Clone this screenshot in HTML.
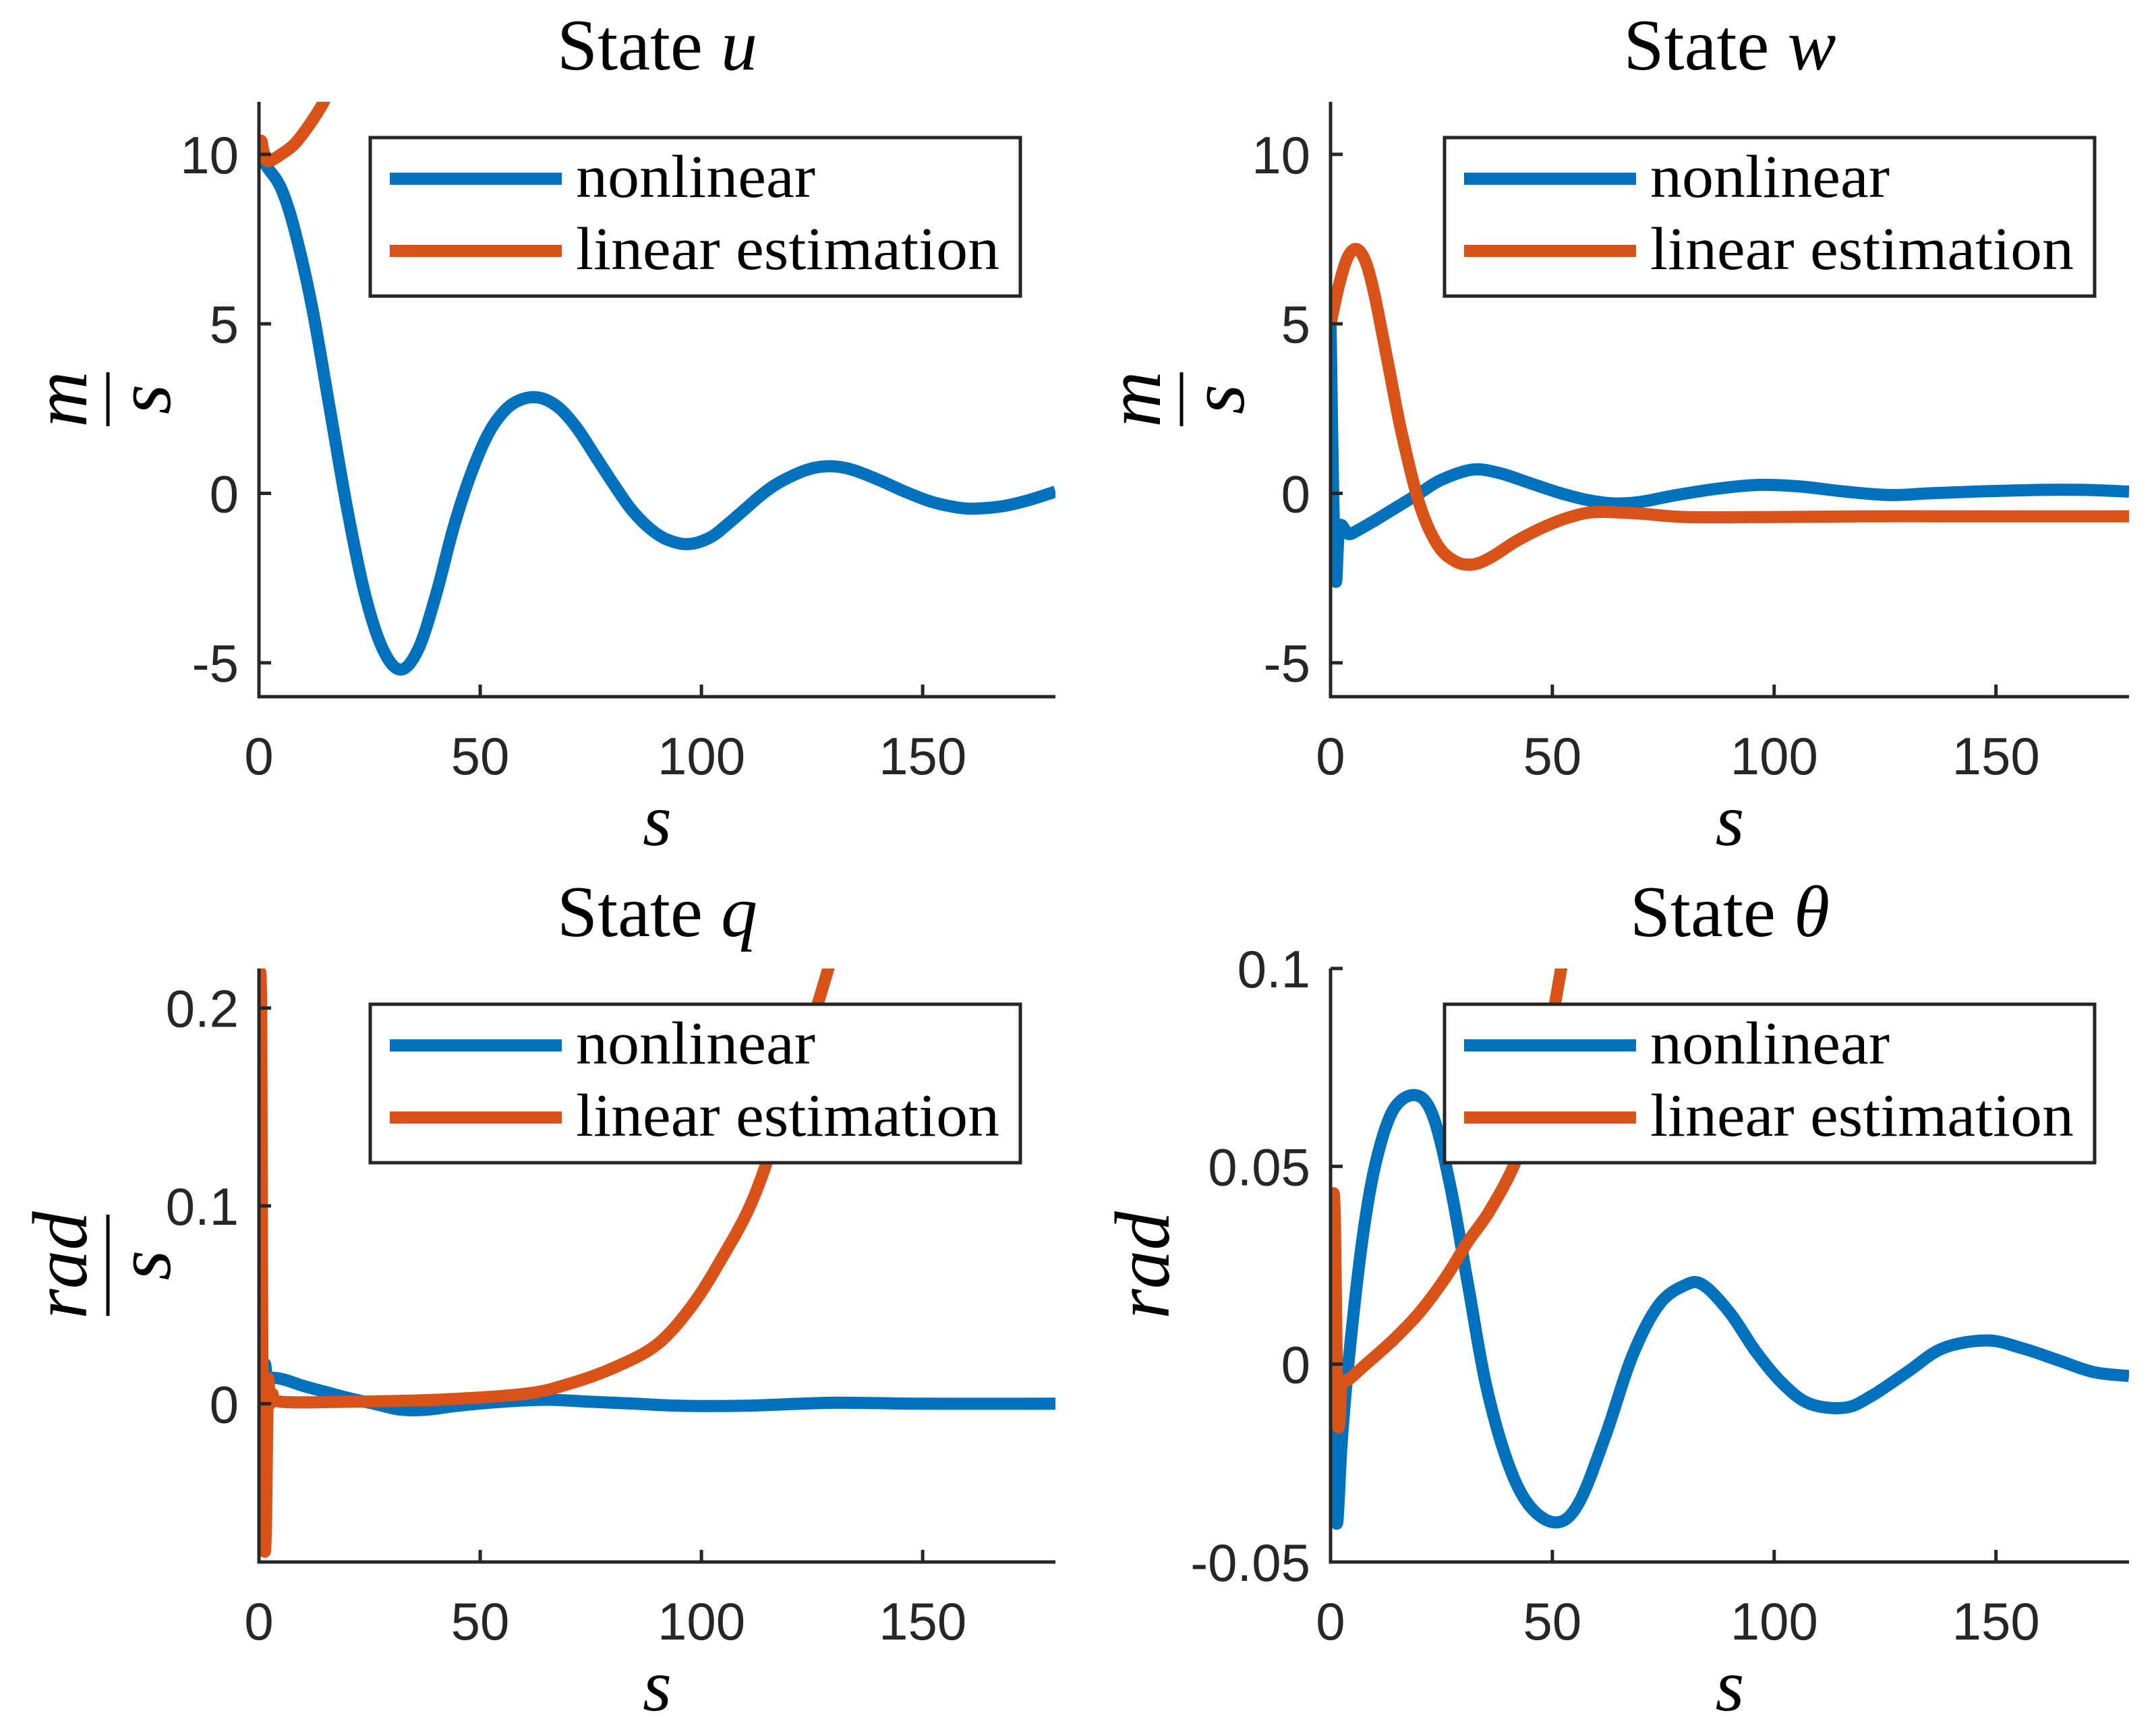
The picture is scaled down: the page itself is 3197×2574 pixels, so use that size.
<!DOCTYPE html>
<html><head><meta charset="utf-8"><style>
html,body{margin:0;padding:0;background:#fff;}
svg{display:block;}
</style></head><body>
<svg id="fig" xmlns="http://www.w3.org/2000/svg" width="3197" height="2574" viewBox="0 0 3197 2574">
<rect width="3197" height="2574" fill="#fff"/>
</svg>
<script>
// ---- data ----
const uNonT=[0,2,5,8,12,16,20,24,28,32,36,40,44,48,52,56,60,64,68,72,76,80,84,88,92,97,102,106,110,114,118,124,129,134,140,146,152,158,162,168,174,180];
const uNonV=[10,9.6,9,7.8,5.5,2.5,-0.5,-3,-4.6,-5.2,-4.6,-3,-1,0.6,1.8,2.5,2.8,2.8,2.5,1.9,1.1,0.3,-0.45,-1.0,-1.35,-1.5,-1.3,-0.9,-0.45,0,0.35,0.7,0.8,0.7,0.4,0.05,-0.25,-0.42,-0.45,-0.38,-0.2,0.05];
const uLinT=[0,0.5,1,2,5,8,11,14,16,17];
const uLinV=[10,10.4,10.1,9.8,10,10.3,10.8,11.4,11.9,12.1];
const wNonT=[0,0.6,1.2,2,4,6,10,15,20,25,32,38,45,52,58,64,70,78,88,97,106,116,126,135,145,160,170,180];
const wNonV=[5,0,-2.6,-1,-1.2,-1.1,-0.8,-0.4,0,0.4,0.7,0.6,0.3,0,-0.2,-0.3,-0.25,-0.05,0.15,0.25,0.2,0.05,-0.05,0,0.05,0.1,0.1,0.05];
const wLinT=[0,2,4,6,8,10,13,16,20,24,28,32,36,42,48,54,60,70,80,100,120,140,180];
const wLinV=[5,6.2,7,7.2,6.8,5.8,3.8,1.8,-0.3,-1.5,-2,-2.1,-1.9,-1.4,-1,-0.7,-0.55,-0.6,-0.7,-0.7,-0.68,-0.68,-0.68];
const qNonT=[0,0.3,0.8,1.3,2,3,6,10,15,20,26,32,38,45,55,65,75,85,95,110,130,150,180];
const qNonV=[0,-0.04,0,0.02,0.01,0.013,0.012,0.009,0.006,0.003,0,-0.003,-0.003,-0.001,0.001,0.002,0.001,0,-0.001,-0.001,0.0005,0,0];
const qLinT=[0,0.5,0.8,1.2,1.6,2,2.5,3,5,20,40,60,70,80,90,98,105,111,116,121,126,130];
const qLinV=[0.21,0.2,0,-0.07,-0.06,0.01,0,0.005,0.001,0.001,0.002,0.005,0.01,0.018,0.03,0.05,0.075,0.1,0.13,0.165,0.2,0.23];
const thNonT=[0,0.8,1.5,2.5,4,7,10,14,19,23,27,31,35,40,45,51,56,62,68,74,80,84,90,96,102,108,116,122,130,138,148,156,164,172,180];
const thNonV=[0,-0.03,-0.04,-0.02,0,0.03,0.05,0.064,0.068,0.063,0.045,0.02,-0.005,-0.025,-0.036,-0.04,-0.035,-0.018,0.002,0.015,0.02,0.02,0.013,0.003,-0.005,-0.01,-0.011,-0.008,-0.002,0.004,0.006,0.004,0.001,-0.002,-0.003];
const thLinT=[0,0.5,1,1.5,2,2.5,4,8,14,20,26,31,36,42,47,52,55];
const thLinV=[0,0.04,0.035,-0.01,-0.015,-0.005,-0.004,0,0.006,0.013,0.022,0.031,0.039,0.052,0.07,0.1,0.12];
const xTicks=[0,50,100,150];
const yTicksU=[-5,0,5,10], yTickLabU=["-5","0","5","10"];
const yTicksQ=[0,0.1,0.2], yTickLabQ=["0","0.1","0.2"];
const yTicksTh=[-0.05,0,0.05,0.1], yTickLabTh=["-0.05","0","0.05","0.1"];
const legendLabels=["nonlinear","linear estimation"];

const NS="http://www.w3.org/2000/svg";
const fig=document.getElementById('fig');
function mk(tag,attrs,parent){const e=document.createElementNS(NS,tag);for(const k in attrs)e.setAttribute(k,attrs[k]);(parent||fig).appendChild(e);return e;}
const BLUE="#0072BD", ORANGE="#D95319", AX="#262626";

function smoothPath(px,py){
  let d="M"+px[0].toFixed(1)+","+py[0].toFixed(1);
  for(let i=0;i<px.length-1;i++){
    const x0=px[Math.max(i-1,0)],y0=py[Math.max(i-1,0)],x1=px[i],y1=py[i],x2=px[i+1],y2=py[i+1],x3=px[Math.min(i+2,px.length-1)],y3=py[Math.min(i+2,py.length-1)];
    const c1x=x1+(x2-x0)/6,c1y=y1+(y2-y0)/6,c2x=x2-(x3-x1)/6,c2y=y2-(y3-y1)/6;
    d+=" C"+c1x.toFixed(1)+","+c1y.toFixed(1)+" "+c2x.toFixed(1)+","+c2y.toFixed(1)+" "+x2.toFixed(1)+","+y2.toFixed(1);
  }
  return d;
}

function panel(o){
  const g=mk('g',{});
  
  
  const L=o.L,R=o.R,T=o.T,B=o.B;
  const sx=v=>L+(v-0)/(180-0)*(R-L);
  const sy=v=>B-(v-o.ymin)/(o.ymax-o.ymin)*(B-T);
  const cid='clip-'+o.name;
  const cp=mk('clipPath',{id:cid},g);mk('rect',{x:L,y:T,width:R-L,height:B-T},cp);
  const series=[[o.nT,o.nV,BLUE,'nonlinear-line'],[o.lT,o.lV,ORANGE,'linear-estimation-line']];
  series.forEach(s=>{
    const p=mk('path',{d:smoothPath(s[0].map(sx),s[1].map(sy)),fill:'none',stroke:s[2],'stroke-width':18,'stroke-linejoin':'round','clip-path':'url(#'+cid+')'},g);
    
    
  });
  const ax=mk('path',{d:`M${L},${T} L${L},${B} L${R},${B}`,fill:'none',stroke:AX,'stroke-width':5},g);
  
  
  xTicks.forEach(t=>{
    mk('line',{x1:sx(t),x2:sx(t),y1:B,y2:B-18,stroke:AX,'stroke-width':5},g);
    const tx=mk('text',{x:sx(t),y:B+115,'text-anchor':'middle','font-family':'Liberation Sans, sans-serif','font-size':78,fill:AX},g);
    tx.textContent=t;
    
    
  });
  o.yt.forEach((t,i)=>{
    mk('line',{x1:L,x2:L+18,y1:sy(t),y2:sy(t),stroke:AX,'stroke-width':5},g);
    const tx=mk('text',{x:L-30,y:sy(t)+28,'text-anchor':'end','font-family':'Liberation Sans, sans-serif','font-size':78,fill:AX},g);
    tx.textContent=o.yl[i];
    
    
  });
  const ti=mk('text',{x:(L+R)/2,y:T-48,'text-anchor':'middle','font-family':'Liberation Serif, serif','font-size':108,fill:'#000'},g);
  ti.innerHTML='State <tspan font-style="italic">'+o.sym+'</tspan>';
  
  
  const xl=mk('text',{x:(L+R)/2,y:B+220,'text-anchor':'middle','font-family':'Liberation Serif, serif','font-style':'italic','font-size':110,fill:'#000'},g);
  xl.textContent='s';
  
  
  const cy=(T+B)/2;
  const yg=mk('g',{transform:`translate(${o.ylx},${cy}) rotate(-90)`},g);
  
  
  if(o.den){
    mk('text',{x:0,y:-32,'text-anchor':'middle','font-family':'Liberation Serif, serif','font-style':'italic','font-size':115,fill:'#000'},yg).textContent=o.num;
    mk('line',{x1:-o.bar/2,x2:o.bar/2,y1:0,y2:0,stroke:'#000','stroke-width':5},yg);
    mk('text',{x:0,y:92,'text-anchor':'middle','font-family':'Liberation Serif, serif','font-style':'italic','font-size':115,fill:'#000'},yg).textContent=o.den;
  } else {
    mk('text',{x:0,y:30,'text-anchor':'middle','font-family':'Liberation Serif, serif','font-style':'italic','font-size':115,fill:'#000'},yg).textContent=o.num;
  }
  const lx=o.legX, ly=o.legY;
  const lg=mk('g',{},g);
  
  
  mk('rect',{x:lx,y:ly,width:964,height:235,fill:'#fff',stroke:AX,'stroke-width':5},lg);
  [[BLUE,61],[ORANGE,168]].forEach((c,i)=>{
    const le=mk('g',{},lg);
    
    
    mk('line',{x1:lx+29,x2:lx+284,y1:ly+c[1],y2:ly+c[1],stroke:c[0],'stroke-width':18},le);
    const t=mk('text',{x:lx+305,y:ly+c[1]+27,'font-family':'Liberation Serif, serif','font-size':90,fill:'#000',textLength:i?628:355,lengthAdjust:'spacingAndGlyphs'},le);
    t.textContent=legendLabels[i];
  });
}

const Lx=384,Rx=1565,Lx2=1973,Rx2=3157,T1=151,B1=1033,T2=1436,B2=2316;
panel({name:'panel-u',L:Lx,R:Rx,T:T1,B:B1,ymin:-6,ymax:11.55,nT:uNonT,nV:uNonV,lT:uLinT,lV:uLinV,yt:yTicksU,yl:yTickLabU,sym:'u',num:'m',den:'s',bar:80,ylx:160,legX:549,legY:204});
panel({name:'panel-w',L:Lx2,R:Rx2,T:T1,B:B1,ymin:-6,ymax:11.55,nT:wNonT,nV:wNonV,lT:wLinT,lV:wLinV,yt:yTicksU,yl:yTickLabU,sym:'w',num:'m',den:'s',bar:80,ylx:1752,legX:2142,legY:204});
panel({name:'panel-q',L:Lx,R:Rx,T:T2,B:B2,ymin:-0.08,ymax:0.22,nT:qNonT,nV:qNonV,lT:qLinT,lV:qLinV,yt:yTicksQ,yl:yTickLabQ,sym:'q',num:'rad',den:'s',bar:150,ylx:160,legX:549,legY:1489});
panel({name:'panel-theta',L:Lx2,R:Rx2,T:T2,B:B2,ymin:-0.05,ymax:0.1,nT:thNonT,nV:thNonV,lT:thLinT,lV:thLinV,yt:yTicksTh,yl:yTickLabTh,sym:'θ',num:'rad',den:null,bar:0,ylx:1703,legX:2142,legY:1489});
</script>
</body></html>
